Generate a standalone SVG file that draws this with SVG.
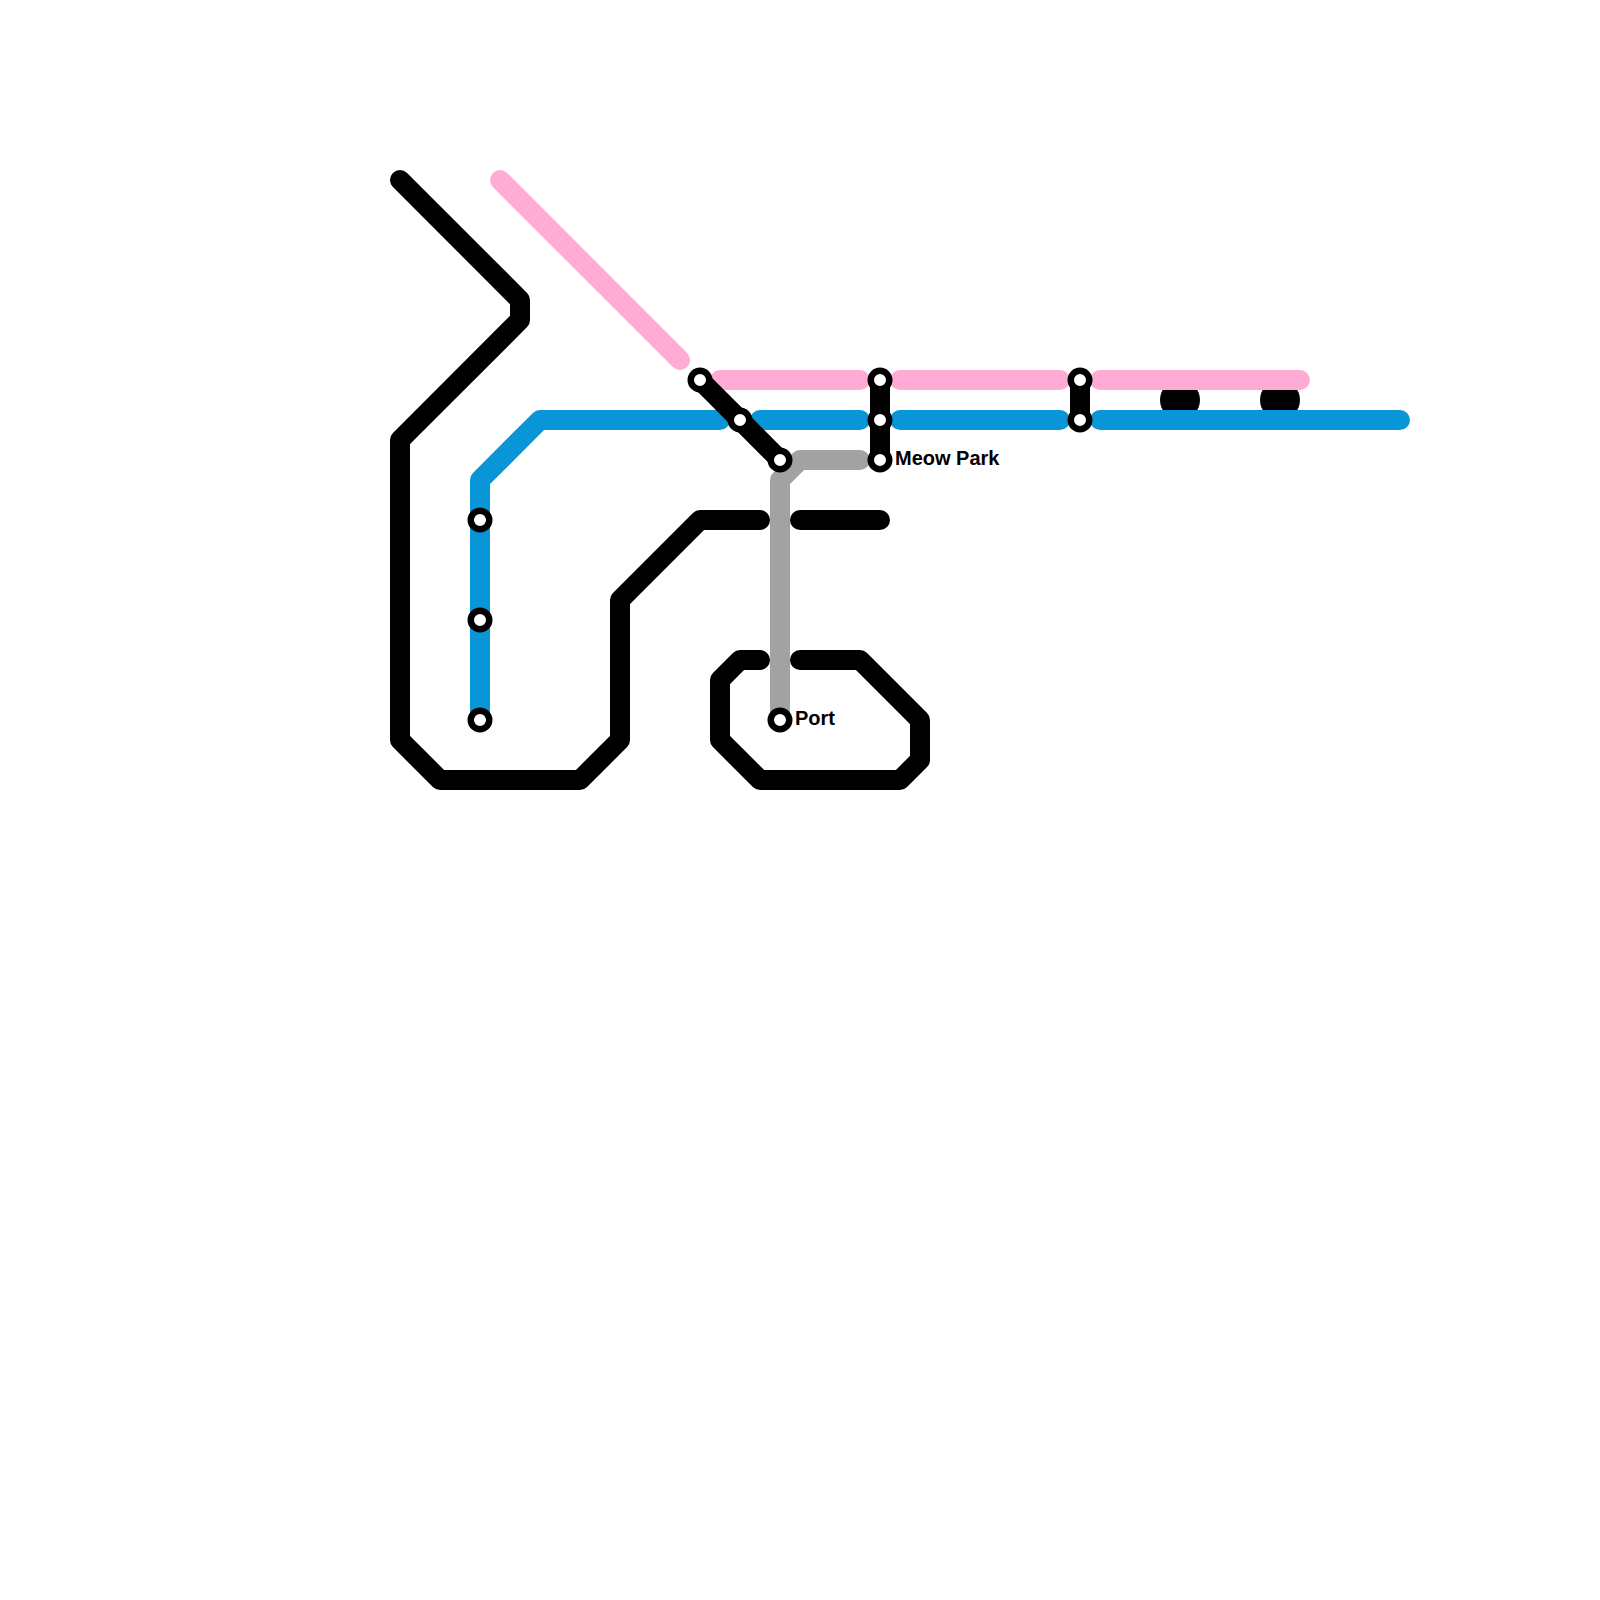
<svg xmlns="http://www.w3.org/2000/svg" width="1600" height="1600" viewBox="0 0 1600 1600">
<style>
.l{fill:none;stroke-width:20;stroke-linecap:round;stroke-linejoin:round}
.k{stroke:#000}.p{stroke:#ffabd5}.b{stroke:#0896d7}.g{stroke:#a2a2a2}
.s{fill:#fff;stroke:#000;stroke-width:6.5}
.t{font-family:"Liberation Sans",Arial,sans-serif;font-weight:700;font-size:20px;fill:#000;opacity:.999}
</style>
<g id="connectors">
<circle cx="1180" cy="400" r="20" fill="#000"/>
<circle cx="1280" cy="400" r="20" fill="#000"/>
<path class="l k" d="M400 180L520 300V320L400 440V740L440 780H580L620 740V600L700 520H760"/>
<path class="l k" d="M800 520H880"/>
<path class="l k" d="M760 660H740L720 680V740L760 780H900L920 760V720L860 660H800"/>
<path class="l p" d="M500 180L680 360"/>
<path class="l p" d="M720 380H860"/>
<path class="l p" d="M900 380H1060"/>
<path class="l p" d="M1100 380H1300"/>
<path class="l b" d="M480 720V480L540 420H720"/>
<path class="l b" d="M760 420H860"/>
<path class="l b" d="M900 420H1060"/>
<path class="l b" d="M1100 420H1400"/>
<path class="l g" d="M780 720V480L800 460H860"/>
<path class="l k" d="M700 380L780 460"/>
<path class="l k" d="M880 380V460"/>
<path class="l k" d="M1080 380V420"/>
</g>
<g id="station-a1"><circle class="s" cx="480" cy="520" r="9.25"/></g>
<g id="station-a2"><circle class="s" cx="480" cy="620" r="9.25"/></g>
<g id="station-a3"><circle class="s" cx="480" cy="720" r="9.25"/></g>
<g id="station-b1"><circle class="s" cx="700" cy="380" r="9.25"/></g>
<g id="station-b2"><circle class="s" cx="740" cy="420" r="9.25"/></g>
<g id="station-b3"><circle class="s" cx="780" cy="460" r="9.25"/></g>
<g id="station-c1"><circle class="s" cx="880" cy="380" r="9.25"/></g>
<g id="station-c2"><circle class="s" cx="880" cy="420" r="9.25"/></g>
<g id="station-meow-park"><circle class="s" cx="880" cy="460" r="9.25"/><text class="t" x="895" y="465">Meow Park</text></g>
<g id="station-d1"><circle class="s" cx="1080" cy="380" r="9.25"/></g>
<g id="station-d2"><circle class="s" cx="1080" cy="420" r="9.25"/></g>
<g id="station-port"><circle class="s" cx="780" cy="720" r="9.25"/><text class="t" x="795" y="725">Port</text></g>
</svg>
